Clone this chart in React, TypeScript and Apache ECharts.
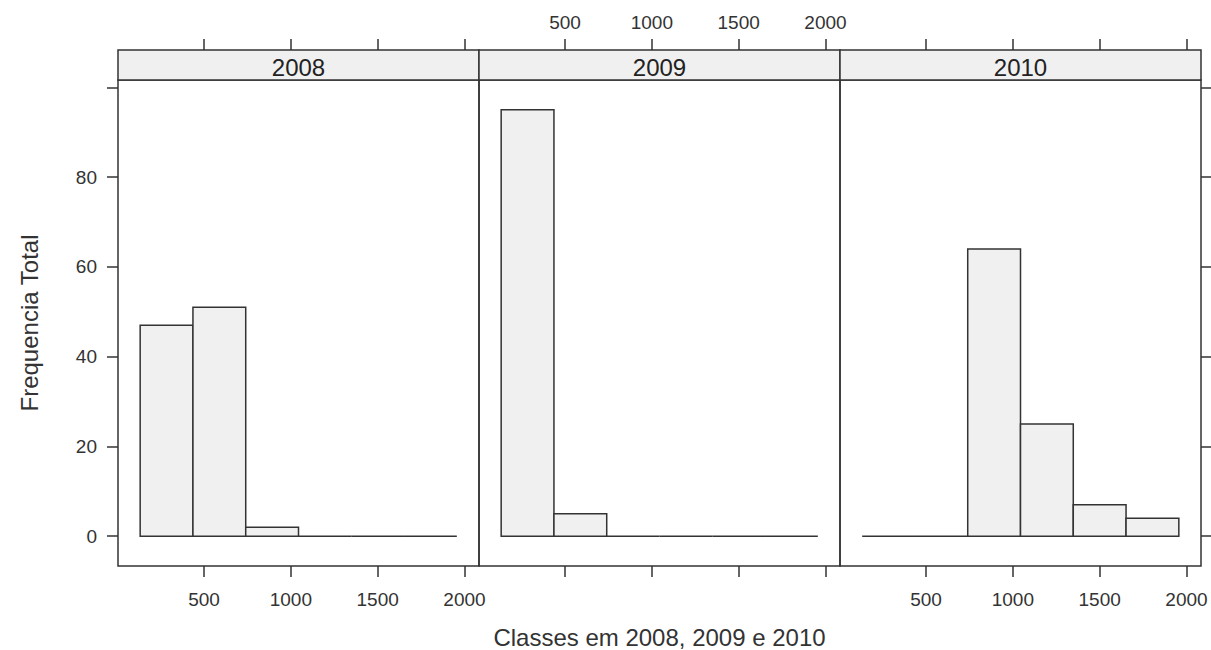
import React, { useEffect, useRef } from "react";
import * as echarts from "echarts";

const years = ["2008", "2009", "2010"];
const breaks = [132, 436, 740, 1044, 1348, 1652, 1956];
const counts2008 = [47, 51, 2, 0, 0, 0];
const counts2009 = [95, 5, 0, 0, 0, 0];
const counts2010 = [0, 0, 64, 25, 7, 4];
const xTicks = [500, 1000, 1500, 2000];
const yTicks = [0, 20, 40, 60, 80, 100];
const yLabels = [0, 20, 40, 60, 80];
const xLimits = [4.3, 2083.7];
const yLimits = [-6.65, 101.65];
const xTitle = "Classes em 2008, 2009 e 2010";
const yTitle = "Frequencia Total";

const FONT = "'Liberation Sans', Arial, Helvetica, sans-serif";
const INK = "#333";
const FILL = "#f0f0f0";

export default function App() {
  const ref = useRef<HTMLDivElement>(null);
  useEffect(() => {
    if (!ref.current) return;
    const chart = echarts.init(ref.current, undefined, { renderer: "svg" });
    const allCounts = [counts2008, counts2009, counts2010];
    const left0 = 118;
    const pw = 361;
    const top = 80;
    const ph = 486;

    const grids = years.map((_, i) => ({
      left: left0 + i * pw,
      top,
      width: pw,
      height: ph,
      show: true,
      borderColor: INK,
      borderWidth: 1.5,
      backgroundColor: "transparent",
      outerBoundsMode: "none",
      containLabel: false,
    }));

    const mkX = (gi: number, position: string, showLabel: boolean) => ({
      type: "value",
      gridIndex: gi,
      position,
      min: xLimits[0],
      max: xLimits[1],
      offset: position === "top" ? 30 : 0,
      axisLine: { show: false, onZero: false },
      splitLine: { show: false },
      axisTick: {
        show: true,
        inside: false,
        length: 11,
        customValues: xTicks,
        lineStyle: { color: INK, width: 1.5 },
      },
      axisLabel: {
        show: showLabel,
        customValues: xTicks,
        margin: position === "bottom" ? 24 : 18,
        fontSize: 19,
        color: INK,
        fontFamily: FONT,
        showMinLabel: true,
        showMaxLabel: true,
        formatter: (v: number) => String(v),
      },
    });

    const xAxes: any[] = [];
    years.forEach((_, i) => {
      const labelsBottom = i !== 1;
      xAxes.push(mkX(i, "bottom", labelsBottom));
      xAxes.push(mkX(i, "top", !labelsBottom));
    });

    const yAxes = years.map((_, i) => ({
      type: "value",
      gridIndex: i,
      position: i === 2 ? "right" : "left",
      min: yLimits[0],
      max: yLimits[1],
      axisLine: { show: false, onZero: false },
      splitLine: { show: false },
      axisTick: {
        show: i !== 1,
        inside: false,
        length: 11,
        customValues: yTicks,
        lineStyle: { color: INK, width: 1.5 },
      },
      axisLabel: {
        show: i === 0,
        customValues: yLabels,
        margin: 21,
        fontSize: 19,
        color: INK,
        fontFamily: FONT,
        formatter: (v: number) => String(v),
      },
    }));

    const series = years.map((y, i) => ({
      type: "custom",
      name: y,
      xAxisIndex: i * 2,
      yAxisIndex: i,
      encode: { x: [0, 1], y: 2 },
      data: allCounts[i].map((c, k) => [breaks[k], breaks[k + 1], c]),
      renderItem: (params: any, api: any) => {
        const p0 = api.coord([api.value(0), api.value(2)]);
        const p1 = api.coord([api.value(1), 0]);
        return {
          type: "polygon",
          shape: {
            points: [
              [p0[0], p1[1]],
              [p0[0], p0[1]],
              [p1[0], p0[1]],
              [p1[0], p1[1]],
            ],
          },
          style: { fill: FILL, stroke: INK, lineWidth: 1.5 },
        };
      },
    }));

    const graphics: any[] = [];
    years.forEach((y, i) => {
      graphics.push({
        type: "rect",
        shape: { x: left0 + i * pw, y: 50, width: pw, height: 30 },
        style: { fill: FILL, stroke: INK, lineWidth: 1.5 },
        z: 10,
      });
      graphics.push({
        type: "text",
        x: left0 + i * pw + pw / 2,
        y: 67,
        style: {
          text: y,
          fontSize: 24,
          fontFamily: FONT,
          fill: "#222",
          textAlign: "center",
          textVerticalAlign: "middle",
        },
        z: 11,
      });
    });
    graphics.push({
      type: "text",
      x: left0 + (3 * pw) / 2,
      y: 637,
      style: {
        text: xTitle,
        fontSize: 24,
        fontFamily: FONT,
        fill: INK,
        textAlign: "center",
        textVerticalAlign: "middle",
      },
    });
    graphics.push({
      type: "text",
      x: 29,
      y: top + ph / 2,
      rotation: Math.PI / 2,
      style: {
        text: yTitle,
        fontSize: 24,
        fontFamily: FONT,
        fill: INK,
        textAlign: "center",
        textVerticalAlign: "middle",
      },
    });

    chart.setOption({
      animation: false,
      backgroundColor: "#fff",
      grid: grids,
      xAxis: xAxes,
      yAxis: yAxes,
      series,
      graphic: graphics,
    } as any);
    return () => chart.dispose();
  }, []);
  return (
    <div
      ref={ref}
      style={{ position: "fixed", left: 0, top: 0, width: 1211, height: 650 }}
    />
  );
}
